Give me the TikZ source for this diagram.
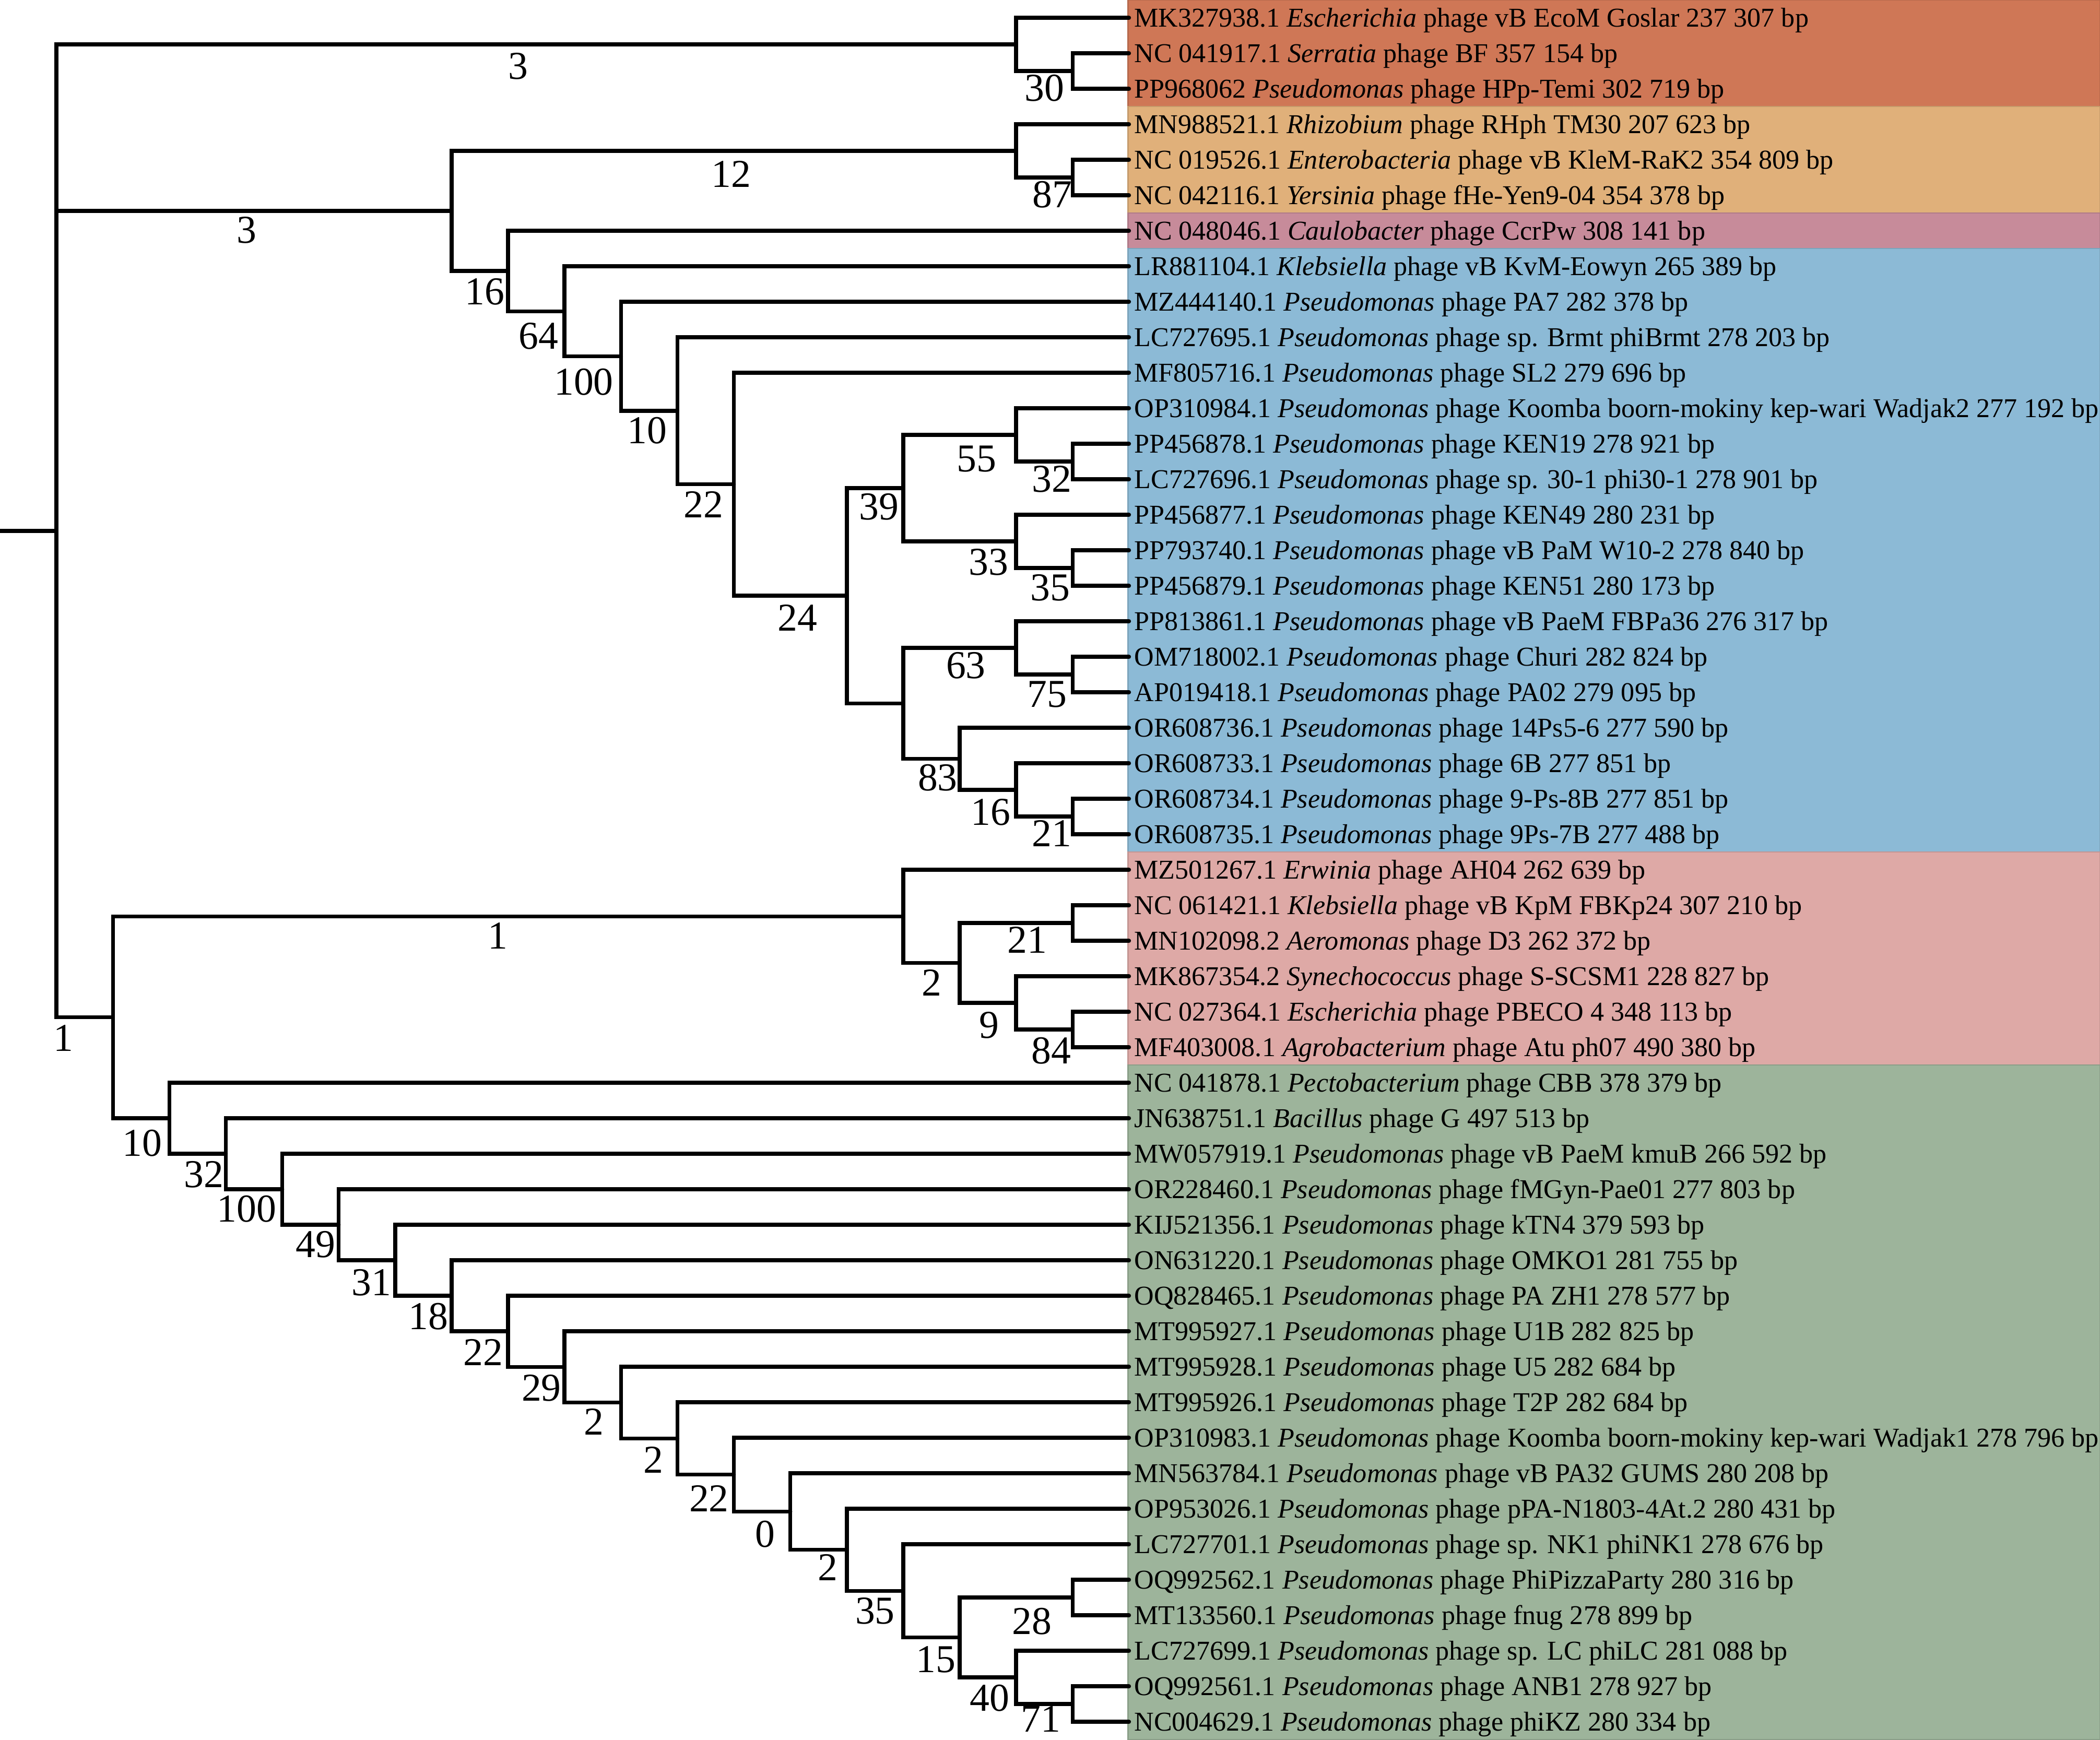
\documentclass[tikz,border=0pt]{standalone}
\usepackage{fontspec}
\setmainfont{Liberation Serif}
\usepackage{tikz}
\usepackage{xcolor}

\definecolor{cladeA}{HTML}{CF7756}
\definecolor{cladeB}{HTML}{E0B07A}
\definecolor{cladeC}{HTML}{C78B9A}
\definecolor{cladeD}{HTML}{8CBAD6}
\definecolor{cladeE}{HTML}{DEA9A6}
\definecolor{cladeF}{HTML}{9DB49B}

\begin{document}
\begin{tikzpicture}[x=42.15pt,y=-26.51pt,line width=2.9pt,line cap=round,
	band/.style={draw=#1!88!black,fill=#1,line width=1pt},
	leaf/.style={anchor=west,inner xsep=2.5pt,inner ysep=0pt,text height=13.4pt,text depth=0pt,font=\fontsize{20.3}{24}\selectfont},
	boot/.style={inner sep=0pt,text height=19.9pt,text depth=0pt,font=\fontsize{29.5}{34}\selectfont}]
	\useasboundingbox (0,0.5) rectangle (37.2,49.5);

	% clade bands
	\path[band=cladeA] (19.985,0.5) rectangle (37.2,3.5);
	\path[band=cladeB] (19.985,3.5) rectangle (37.2,6.5);
	\path[band=cladeC] (19.985,6.5) rectangle (37.2,7.5);
	\path[band=cladeD] (19.985,7.5) rectangle (37.2,24.5);
	\path[band=cladeE] (19.985,24.5) rectangle (37.2,30.5);
	\path[band=cladeF] (19.985,30.5) rectangle (37.2,49.5);

	\begin{scope}
	% Leaves
	\node (l1) [leaf] at (20,1) {MK327938.1 \textit{Escherichia} phage vB EcoM Goslar 237 307 bp};
	\node (l2) [leaf] at (20,2) {NC 041917.1 \textit{Serratia} phage BF 357 154 bp};
	\node (l3) [leaf] at (20,3) {PP968062 \textit{Pseudomonas} phage HPp-Temi 302 719 bp};
	\node (l4) [leaf] at (20,4) {MN988521.1 \textit{Rhizobium} phage RHph TM30 207 623 bp};
	\node (l5) [leaf] at (20,5) {NC 019526.1 \textit{Enterobacteria} phage vB KleM-RaK2 354 809 bp};
	\node (l6) [leaf] at (20,6) {NC 042116.1 \textit{Yersinia} phage fHe-Yen9-04 354 378 bp};
	\node (l7) [leaf] at (20,7) {NC 048046.1 \textit{Caulobacter} phage CcrPw 308 141 bp};
	\node (l8) [leaf] at (20,8) {LR881104.1 \textit{Klebsiella} phage vB KvM-Eowyn 265 389 bp};
	\node (l9) [leaf] at (20,9) {MZ444140.1 \textit{Pseudomonas} phage PA7 282 378 bp};
	\node (l10) [leaf] at (20,10) {LC727695.1 \textit{Pseudomonas} phage sp. Brmt phiBrmt 278 203 bp};
	\node (l11) [leaf] at (20,11) {MF805716.1 \textit{Pseudomonas} phage SL2 279 696 bp};
	\node (l12) [leaf] at (20,12) {OP310984.1 \textit{Pseudomonas} phage Koomba boorn-mokiny kep-wari Wadjak2 277 192 bp};
	\node (l13) [leaf] at (20,13) {PP456878.1 \textit{Pseudomonas} phage KEN19 278 921 bp};
	\node (l14) [leaf] at (20,14) {LC727696.1 \textit{Pseudomonas} phage sp. 30-1 phi30-1 278 901 bp};
	\node (l15) [leaf] at (20,15) {PP456877.1 \textit{Pseudomonas} phage KEN49 280 231 bp};
	\node (l16) [leaf] at (20,16) {PP793740.1 \textit{Pseudomonas} phage vB PaM W10-2 278 840 bp};
	\node (l17) [leaf] at (20,17) {PP456879.1 \textit{Pseudomonas} phage KEN51 280 173 bp};
	\node (l18) [leaf] at (20,18) {PP813861.1 \textit{Pseudomonas} phage vB PaeM FBPa36 276 317 bp};
	\node (l19) [leaf] at (20,19) {OM718002.1 \textit{Pseudomonas} phage Churi 282 824 bp};
	\node (l20) [leaf] at (20,20) {AP019418.1 \textit{Pseudomonas} phage PA02 279 095 bp};
	\node (l21) [leaf] at (20,21) {OR608736.1 \textit{Pseudomonas} phage 14Ps5-6 277 590 bp};
	\node (l22) [leaf] at (20,22) {OR608733.1 \textit{Pseudomonas} phage 6B 277 851 bp};
	\node (l23) [leaf] at (20,23) {OR608734.1 \textit{Pseudomonas} phage 9-Ps-8B 277 851 bp};
	\node (l24) [leaf] at (20,24) {OR608735.1 \textit{Pseudomonas} phage 9Ps-7B 277 488 bp};
	\node (l25) [leaf] at (20,25) {MZ501267.1 \textit{Erwinia} phage AH04 262 639 bp};
	\node (l26) [leaf] at (20,26) {NC 061421.1 \textit{Klebsiella} phage vB KpM FBKp24 307 210 bp};
	\node (l27) [leaf] at (20,27) {MN102098.2 \textit{Aeromonas} phage D3 262 372 bp};
	\node (l28) [leaf] at (20,28) {MK867354.2 \textit{Synechococcus} phage S-SCSM1 228 827 bp};
	\node (l29) [leaf] at (20,29) {NC 027364.1 \textit{Escherichia} phage PBECO 4 348 113 bp};
	\node (l30) [leaf] at (20,30) {MF403008.1 \textit{Agrobacterium} phage Atu ph07 490 380 bp};
	\node (l31) [leaf] at (20,31) {NC 041878.1 \textit{Pectobacterium} phage CBB 378 379 bp};
	\node (l32) [leaf] at (20,32) {JN638751.1 \textit{Bacillus} phage G 497 513 bp};
	\node (l33) [leaf] at (20,33) {MW057919.1 \textit{Pseudomonas} phage vB PaeM kmuB 266 592 bp};
	\node (l34) [leaf] at (20,34) {OR228460.1 \textit{Pseudomonas} phage fMGyn-Pae01 277 803 bp};
	\node (l35) [leaf] at (20,35) {KIJ521356.1 \textit{Pseudomonas} phage kTN4 379 593 bp};
	\node (l36) [leaf] at (20,36) {ON631220.1 \textit{Pseudomonas} phage OMKO1 281 755 bp};
	\node (l37) [leaf] at (20,37) {OQ828465.1 \textit{Pseudomonas} phage PA ZH1 278 577 bp};
	\node (l38) [leaf] at (20,38) {MT995927.1 \textit{Pseudomonas} phage U1B 282 825 bp};
	\node (l39) [leaf] at (20,39) {MT995928.1 \textit{Pseudomonas} phage U5 282 684 bp};
	\node (l40) [leaf] at (20,40) {MT995926.1 \textit{Pseudomonas} phage T2P 282 684 bp};
	\node (l41) [leaf] at (20,41) {OP310983.1 \textit{Pseudomonas} phage Koomba boorn-mokiny kep-wari Wadjak1 278 796 bp};
	\node (l42) [leaf] at (20,42) {MN563784.1 \textit{Pseudomonas} phage vB PA32 GUMS 280 208 bp};
	\node (l43) [leaf] at (20,43) {OP953026.1 \textit{Pseudomonas} phage pPA-N1803-4At.2 280 431 bp};
	\node (l44) [leaf] at (20,44) {LC727701.1 \textit{Pseudomonas} phage sp. NK1 phiNK1 278 676 bp};
	\node (l45) [leaf] at (20,45) {OQ992562.1 \textit{Pseudomonas} phage PhiPizzaParty 280 316 bp};
	\node (l46) [leaf] at (20,46) {MT133560.1 \textit{Pseudomonas} phage fnug 278 899 bp};
	\node (l47) [leaf] at (20,47) {LC727699.1 \textit{Pseudomonas} phage sp. LC phiLC 281 088 bp};
	\node (l48) [leaf] at (20,48) {OQ992561.1 \textit{Pseudomonas} phage ANB1 278 927 bp};
	\node (l49) [leaf] at (20,49) {NC004629.1 \textit{Pseudomonas} phage phiKZ 280 334 bp};
	\end{scope}

	% Inner nodes
	\coordinate (r0) at (0,15.453);
	\coordinate (root) at (1,15.453);
	\coordinate (A) at (18,1.75);
	\coordinate (n30) at (19,2.5);
	\coordinate (B) at (8,6.442);
	\coordinate (C) at (18,4.75);
	\coordinate (n87) at (19,5.5);
	\coordinate (D) at (9,8.134);
	\coordinate (E) at (10,9.268);
	\coordinate (F) at (11,10.535);
	\coordinate (G) at (12,12.070);
	\coordinate (H) at (13,14.141);
	\coordinate (I) at (15,17.281);
	\coordinate (n39) at (16,14.25);
	\coordinate (n55) at (18,12.75);
	\coordinate (n32) at (19,13.5);
	\coordinate (n33) at (18,15.75);
	\coordinate (n35) at (19,16.5);
	\coordinate (J) at (16,20.313);
	\coordinate (n63) at (18,18.75);
	\coordinate (n75) at (19,19.5);
	\coordinate (n83) at (17,21.875);
	\coordinate (n16) at (18,22.75);
	\coordinate (n21) at (19,23.5);
	\coordinate (L) at (2,29.156);
	\coordinate (M) at (16,26.313);
	\coordinate (n2) at (17,27.625);
	\coordinate (n21b) at (19,26.5);
	\coordinate (n9) at (18,28.75);
	\coordinate (n84) at (19,29.5);
	\coordinate (N) at (3,32);
	\coordinate (O) at (4,33);
	\coordinate (P) at (5,34);
	\coordinate (Q) at (6,35);
	\coordinate (R) at (7,36.001);
	\coordinate (S) at (8,37.001);
	\coordinate (T) at (9,38.002);
	\coordinate (U) at (10,39.005);
	\coordinate (V) at (11,40.010);
	\coordinate (W) at (12,41.020);
	\coordinate (X) at (13,42.039);
	\coordinate (Y) at (14,43.078);
	\coordinate (Z) at (15,44.156);
	\coordinate (AA) at (16,45.313);
	\coordinate (AB) at (17,46.625);
	\coordinate (n28) at (19,45.5);
	\coordinate (n40) at (18,47.75);
	\coordinate (n71) at (19,48.5);

	% Root
	\draw (r0) -- (root);
	\draw (root) |- (A) (root) |- (B) (root) |- (L);
	% Top clades
	\draw (A) |- (l1) (A) |- (n30);
	\draw (n30) |- (l2) (n30) |- (l3);
	\draw (B) |- (C) (B) |- (D);
	\draw (C) |- (l4) (C) |- (n87);
	\draw (n87) |- (l5) (n87) |- (l6);
	% Backbone to Pseudomonas group
	\draw (D) |- (l7) (D) |- (E);
	\draw (E) |- (l8) (E) |- (F);
	\draw (F) |- (l9) (F) |- (G);
	\draw (G) |- (l10) (G) |- (H);
	\draw (H) |- (l11) (H) |- (I);
	\draw (I) |- (n39) (I) |- (J);
	\draw (n39) |- (n55) (n39) |- (n33);
	\draw (n55) |- (l12) (n55) |- (n32);
	\draw (n32) |- (l13) (n32) |- (l14);
	\draw (n33) |- (l15) (n33) |- (n35);
	\draw (n35) |- (l16) (n35) |- (l17);
	\draw (J) |- (n63) (J) |- (n83);
	\draw (n63) |- (l18) (n63) |- (n75);
	\draw (n75) |- (l19) (n75) |- (l20);
	\draw (n83) |- (l21) (n83) |- (n16);
	\draw (n16) |- (l22) (n16) |- (n21);
	\draw (n21) |- (l23) (n21) |- (l24);
	% Lower half
	\draw (L) |- (M) (L) |- (N);
	\draw (M) |- (l25) (M) |- (n2);
	\draw (n2) |- (n21b) (n2) |- (n9);
	\draw (n21b) |- (l26) (n21b) |- (l27);
	\draw (n9) |- (l28) (n9) |- (n84);
	\draw (n84) |- (l29) (n84) |- (l30);
	\draw (N) |- (l31) (N) |- (O);
	\draw (O) |- (l32) (O) |- (P);
	\draw (P) |- (l33) (P) |- (Q);
	\draw (Q) |- (l34) (Q) |- (R);
	\draw (R) |- (l35) (R) |- (S);
	\draw (S) |- (l36) (S) |- (T);
	\draw (T) |- (l37) (T) |- (U);
	\draw (U) |- (l38) (U) |- (V);
	\draw (V) |- (l39) (V) |- (W);
	\draw (W) |- (l40) (W) |- (X);
	\draw (X) |- (l41) (X) |- (Y);
	\draw (Y) |- (l42) (Y) |- (Z);
	\draw (Z) |- (l43) (Z) |- (AA);
	\draw (AA) |- (l44) (AA) |- (AB);
	\draw (AB) |- (n28) (AB) |- (n40);
	\draw (n28) |- (l45) (n28) |- (l46);
	\draw (n40) |- (l47) (n40) |- (n71);
	\draw (n71) |- (l48) (n71) |- (l49);

	% Bootstrap values
	\node (bA) [boot] at (9.18,2.35) {3};
	\node (b30) [boot] at (18.50,2.97) {30};
	\node (bB) [boot] at (4.37,6.97) {3};
	\node (bC) [boot] at (12.95,5.40) {12};
	\node (b87) [boot] at (18.64,5.97) {87};
	\node (bD) [boot] at (8.59,8.70) {16};
	\node (bE) [boot] at (9.54,9.95) {64};
	\node (bF) [boot] at (10.34,11.25) {100};
	\node (bG) [boot] at (11.46,12.62) {10};
	\node (bH) [boot] at (12.46,14.71) {22};
	\node (bI) [boot] at (14.13,17.89) {24};
	\node (b39) [boot] at (15.57,14.76) {39};
	\node (b55) [boot] at (17.30,13.41) {55};
	\node (b32) [boot] at (18.63,13.99) {32};
	\node (b33) [boot] at (17.51,16.32) {33};
	\node (b35) [boot] at (18.60,17.04) {35};
	\node (b63) [boot] at (17.11,19.24) {63};
	\node (b75) [boot] at (18.55,20.04) {75};
	\node (b83) [boot] at (16.61,22.40) {83};
	\node (b16) [boot] at (17.55,23.37) {16};
	\node (b21) [boot] at (18.63,23.97) {21};
	\node (bM) [boot] at (8.82,26.85) {1};
	\node (b21b) [boot] at (18.20,26.97) {21};
	\node (b2) [boot] at (16.50,28.17) {2};
	\node (b9) [boot] at (17.52,29.36) {9};
	\node (b84) [boot] at (18.62,30.08) {84};
	\node (bL) [boot] at (1.12,29.74) {1};
	\node (bN) [boot] at (2.52,32.69) {10};
	\node (bO) [boot] at (3.61,33.57) {32};
	\node (bP) [boot] at (4.37,34.54) {100};
	\node (bQ) [boot] at (5.59,35.55) {49};
	\node (bR) [boot] at (6.58,36.61) {31};
	\node (bS) [boot] at (7.59,37.57) {18};
	\node (bT) [boot] at (8.56,38.58) {22};
	\node (bU) [boot] at (9.59,39.59) {29};
	\node (bV) [boot] at (10.52,40.55) {2};
	\node (bW) [boot] at (11.57,41.61) {2};
	\node (bX) [boot] at (12.56,42.71) {22};
	\node (bY) [boot] at (13.55,43.70) {0};
	\node (bZ) [boot] at (14.66,44.64) {2};
	\node (bAA) [boot] at (15.50,45.87) {35};
	\node (bAB) [boot] at (16.58,47.24) {15};
	\node (b28) [boot] at (18.28,46.16) {28};
	\node (b40) [boot] at (17.53,48.32) {40};
	\node (b71) [boot] at (18.44,48.91) {71};
\end{tikzpicture}
\end{document}
